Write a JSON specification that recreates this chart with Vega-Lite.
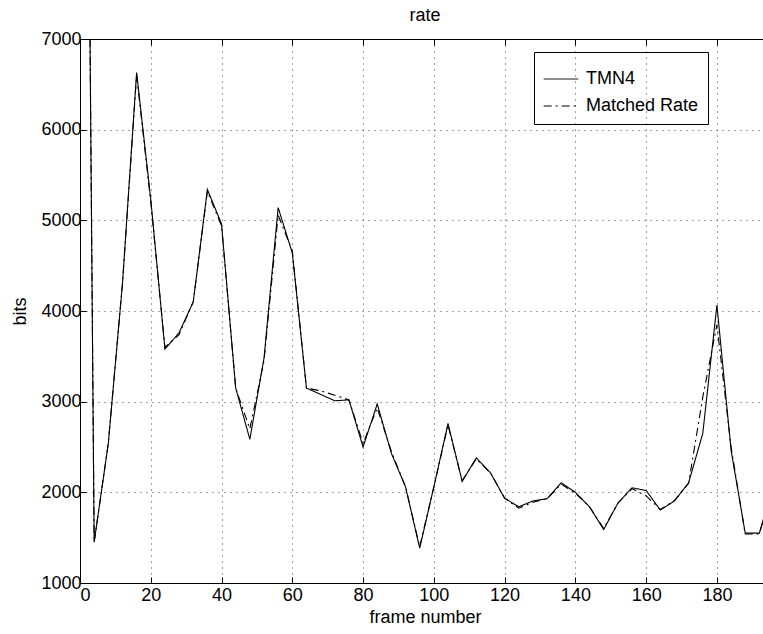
{
  "$schema": "https://vega.github.io/schema/vega-lite/v6.json",
  "autosize": {"type": "none"},
  "padding": {"left": 80, "top": 39, "right": 0, "bottom": 51},
  "width": 690,
  "height": 544,
  "title": {"text": "rate", "fontSize": 18, "fontWeight": "normal", "font": "Liberation Sans", "color": "black", "offset": 5},
  "datasets": {
    "rates": [
      {"frame": 0, "series": "TMN4", "bits": 20500},
      {"frame": 4, "series": "TMN4", "bits": 1450},
      {"frame": 8, "series": "TMN4", "bits": 2540},
      {"frame": 12, "series": "TMN4", "bits": 4300},
      {"frame": 16, "series": "TMN4", "bits": 6630},
      {"frame": 20, "series": "TMN4", "bits": 5230},
      {"frame": 24, "series": "TMN4", "bits": 3580},
      {"frame": 28, "series": "TMN4", "bits": 3760},
      {"frame": 32, "series": "TMN4", "bits": 4100},
      {"frame": 36, "series": "TMN4", "bits": 5340},
      {"frame": 40, "series": "TMN4", "bits": 4960},
      {"frame": 44, "series": "TMN4", "bits": 3150},
      {"frame": 48, "series": "TMN4", "bits": 2585},
      {"frame": 52, "series": "TMN4", "bits": 3480},
      {"frame": 56, "series": "TMN4", "bits": 5140},
      {"frame": 60, "series": "TMN4", "bits": 4640},
      {"frame": 64, "series": "TMN4", "bits": 3150},
      {"frame": 68, "series": "TMN4", "bits": 3080},
      {"frame": 72, "series": "TMN4", "bits": 3010},
      {"frame": 76, "series": "TMN4", "bits": 3020},
      {"frame": 80, "series": "TMN4", "bits": 2500},
      {"frame": 84, "series": "TMN4", "bits": 2975},
      {"frame": 88, "series": "TMN4", "bits": 2430},
      {"frame": 92, "series": "TMN4", "bits": 2060},
      {"frame": 96, "series": "TMN4", "bits": 1385},
      {"frame": 100, "series": "TMN4", "bits": 2060},
      {"frame": 104, "series": "TMN4", "bits": 2760},
      {"frame": 108, "series": "TMN4", "bits": 2120},
      {"frame": 112, "series": "TMN4", "bits": 2380},
      {"frame": 116, "series": "TMN4", "bits": 2215},
      {"frame": 120, "series": "TMN4", "bits": 1935},
      {"frame": 124, "series": "TMN4", "bits": 1840},
      {"frame": 128, "series": "TMN4", "bits": 1905},
      {"frame": 132, "series": "TMN4", "bits": 1930},
      {"frame": 136, "series": "TMN4", "bits": 2105},
      {"frame": 140, "series": "TMN4", "bits": 2000},
      {"frame": 144, "series": "TMN4", "bits": 1840},
      {"frame": 148, "series": "TMN4", "bits": 1590},
      {"frame": 152, "series": "TMN4", "bits": 1880},
      {"frame": 156, "series": "TMN4", "bits": 2050},
      {"frame": 160, "series": "TMN4", "bits": 2020},
      {"frame": 164, "series": "TMN4", "bits": 1805},
      {"frame": 168, "series": "TMN4", "bits": 1905},
      {"frame": 172, "series": "TMN4", "bits": 2105},
      {"frame": 176, "series": "TMN4", "bits": 2650},
      {"frame": 180, "series": "TMN4", "bits": 4065},
      {"frame": 184, "series": "TMN4", "bits": 2465},
      {"frame": 188, "series": "TMN4", "bits": 1550},
      {"frame": 192, "series": "TMN4", "bits": 1550},
      {"frame": 196, "series": "TMN4", "bits": 2100},
      {"frame": 0, "series": "Matched Rate", "bits": 20500},
      {"frame": 4, "series": "Matched Rate", "bits": 1450},
      {"frame": 8, "series": "Matched Rate", "bits": 2540},
      {"frame": 12, "series": "Matched Rate", "bits": 4300},
      {"frame": 16, "series": "Matched Rate", "bits": 6600},
      {"frame": 20, "series": "Matched Rate", "bits": 5200},
      {"frame": 24, "series": "Matched Rate", "bits": 3600},
      {"frame": 28, "series": "Matched Rate", "bits": 3740},
      {"frame": 32, "series": "Matched Rate", "bits": 4100},
      {"frame": 36, "series": "Matched Rate", "bits": 5320},
      {"frame": 40, "series": "Matched Rate", "bits": 4940},
      {"frame": 44, "series": "Matched Rate", "bits": 3150},
      {"frame": 48, "series": "Matched Rate", "bits": 2700},
      {"frame": 52, "series": "Matched Rate", "bits": 3450},
      {"frame": 56, "series": "Matched Rate", "bits": 5060},
      {"frame": 60, "series": "Matched Rate", "bits": 4660},
      {"frame": 64, "series": "Matched Rate", "bits": 3150},
      {"frame": 68, "series": "Matched Rate", "bits": 3120},
      {"frame": 72, "series": "Matched Rate", "bits": 3070},
      {"frame": 76, "series": "Matched Rate", "bits": 3020},
      {"frame": 80, "series": "Matched Rate", "bits": 2540},
      {"frame": 84, "series": "Matched Rate", "bits": 2930},
      {"frame": 88, "series": "Matched Rate", "bits": 2450},
      {"frame": 92, "series": "Matched Rate", "bits": 2060},
      {"frame": 96, "series": "Matched Rate", "bits": 1400},
      {"frame": 100, "series": "Matched Rate", "bits": 2060},
      {"frame": 104, "series": "Matched Rate", "bits": 2740},
      {"frame": 108, "series": "Matched Rate", "bits": 2130},
      {"frame": 112, "series": "Matched Rate", "bits": 2370},
      {"frame": 116, "series": "Matched Rate", "bits": 2215},
      {"frame": 120, "series": "Matched Rate", "bits": 1935},
      {"frame": 124, "series": "Matched Rate", "bits": 1825},
      {"frame": 128, "series": "Matched Rate", "bits": 1890},
      {"frame": 132, "series": "Matched Rate", "bits": 1930},
      {"frame": 136, "series": "Matched Rate", "bits": 2090},
      {"frame": 140, "series": "Matched Rate", "bits": 1990},
      {"frame": 144, "series": "Matched Rate", "bits": 1840},
      {"frame": 148, "series": "Matched Rate", "bits": 1600},
      {"frame": 152, "series": "Matched Rate", "bits": 1880},
      {"frame": 156, "series": "Matched Rate", "bits": 2040},
      {"frame": 160, "series": "Matched Rate", "bits": 1960},
      {"frame": 164, "series": "Matched Rate", "bits": 1810},
      {"frame": 168, "series": "Matched Rate", "bits": 1910},
      {"frame": 172, "series": "Matched Rate", "bits": 2100},
      {"frame": 176, "series": "Matched Rate", "bits": 3050},
      {"frame": 180, "series": "Matched Rate", "bits": 3850},
      {"frame": 184, "series": "Matched Rate", "bits": 2500},
      {"frame": 188, "series": "Matched Rate", "bits": 1540},
      {"frame": 192, "series": "Matched Rate", "bits": 1540},
      {"frame": 196, "series": "Matched Rate", "bits": 2100}
    ]
  },
  "data": {"name": "rates"},
  "layer": [
    {
      "mark": {"type": "line", "clip": true, "strokeWidth": 1.1, "color": "black"},
      "encoding": {
        "x": {
          "field": "frame", "type": "quantitative",
          "scale": {"domain": [0, 195], "nice": false, "zero": false},
          "axis": {"title": "frame number", "values": [0, 20, 40, 60, 80, 100, 120, 140, 160, 180], "format": "d", "grid": true, "labelPadding": 9, "titlePadding": 4}
        },
        "y": {
          "field": "bits", "type": "quantitative",
          "scale": {"domain": [1000, 7000], "nice": false, "zero": false},
          "axis": {"title": "bits", "values": [1000, 2000, 3000, 4000, 5000, 6000, 7000], "format": "d", "grid": true, "labelPadding": 5, "titlePadding": 11}
        },
        "strokeDash": {
          "field": "series", "type": "nominal",
          "scale": {"domain": ["TMN4", "Matched Rate"], "range": [[1, 0], [8, 4, 2, 4]]},
          "legend": {"title": null, "labelExpr": "datum.label + '\u00a0\u00a0\u00a0\u00a0\u00a0\u00a0\u00a0'"}
        }
      }
    },
    {
      "mark": {"type": "line", "clip": true, "opacity": 0},
      "encoding": {
        "x": {
          "field": "frame", "type": "quantitative",
          "axis": {"orient": "top", "title": null, "labels": false, "grid": false, "values": [0, 20, 40, 60, 80, 100, 120, 140, 160, 180]}
        },
        "y": {"field": "bits", "type": "quantitative"},
        "detail": {"field": "series"}
      }
    }
  ],
  "resolve": {"axis": {"x": "independent"}},
  "config": {
    "font": "Liberation Sans",
    "view": {"stroke": "black", "strokeWidth": 1},
    "axis": {
      "labelFontSize": 18, "titleFontSize": 18, "titleFontWeight": "normal",
      "labelColor": "black", "titleColor": "black", "domainColor": "black",
      "tickColor": "black", "tickSize": -6, "tickWidth": 1,
      "gridColor": "#333333", "gridDash": [1, 5], "gridOpacity": 0.9, "gridWidth": 1,
      "labelFont": "Liberation Sans", "titleFont": "Liberation Sans"
    },
    "legend": {
      "orient": "none", "legendX": 454, "legendY": 13,
      "strokeColor": "black", "padding": 9,
      "labelFontSize": 18, "labelFont": "Liberation Sans", "labelColor": "black",
      "symbolType": "stroke", "symbolSize": 1200, "symbolStrokeWidth": 1, "symbolStrokeColor": "black",
      "labelOffset": 7, "rowPadding": -10
    }
  }
}
